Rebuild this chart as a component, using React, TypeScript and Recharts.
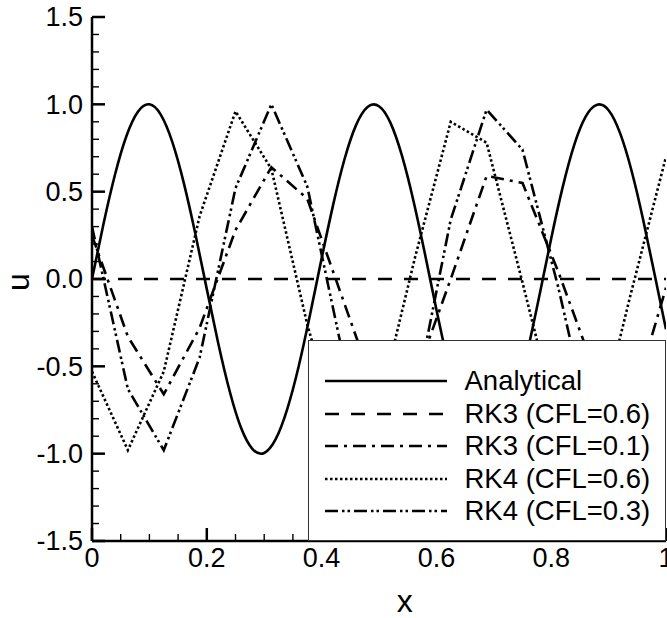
import React from 'react';
import { LineChart, Line, XAxis, YAxis, Label } from 'recharts';

// ---------- data ----------
const X_ANALYTIC = [
  0, 0.02, 0.04, 0.06, 0.08, 0.1, 0.12, 0.14, 0.16, 0.18,
  0.2, 0.22, 0.24, 0.26, 0.28, 0.3, 0.32, 0.34, 0.36, 0.38,
  0.4, 0.42, 0.44, 0.46, 0.48, 0.5, 0.52, 0.54, 0.56, 0.58,
  0.6, 0.62, 0.64, 0.66, 0.68, 0.7, 0.72, 0.74, 0.76, 0.78,
  0.8, 0.82, 0.84, 0.86, 0.88, 0.9, 0.92, 0.94, 0.96, 0.98, 1,
];
const U_ANALYTIC = [
  0, 0.315, 0.597, 0.819, 0.958, 1.0, 0.94, 0.784, 0.549, 0.259,
  -0.058, -0.369, -0.644, -0.855, -0.975, -0.996, -0.917, -0.746, -0.501, -0.202,
  0.117, 0.423, 0.687, 0.881, 0.985, 0.989, 0.894, 0.706, 0.448, 0.144,
  -0.174, -0.475, -0.729, -0.906, -0.993, -0.98, -0.867, -0.665, -0.395, -0.086,
  0.232, 0.526, 0.767, 0.93, 0.998, 0.966, 0.835, 0.62, 0.342, 0.028, -0.288,
];

const X_GRID = [
  0, 0.0625, 0.125, 0.1875, 0.25, 0.3125, 0.375, 0.4375, 0.5,
  0.5625, 0.625, 0.6875, 0.75, 0.8125, 0.875, 0.9375, 1,
];
const U_RK3_CFL06 = [0, 0, 0, 0, 0, 0, 0, 0, 0, 0, 0, 0, 0, 0, 0, 0, 0];
const U_RK3_CFL01 = [
  0.25, -0.33, -0.66, -0.28, 0.28, 0.64, 0.46, -0.12, -0.7,
  -0.57, 0.0, 0.59, 0.55, 0.04, -0.52, -0.75, -0.05,
];
const U_RK4_CFL06 = [
  -0.53, -0.98, -0.53, 0.36, 0.96, 0.63, -0.26, -0.98, -0.73,
  0.12, 0.9, 0.78, -0.02, -0.84, -0.94, -0.1, 0.7,
];
const U_RK4_CFL03 = [
  0.3, -0.63, -0.98, -0.45, 0.52, 1.0, 0.53, -0.44, -1.0,
  -0.69, 0.34, 0.97, 0.74, -0.05, -0.95, -0.8, -0.45,
];

const X_TICKS = [
  0, 0.05, 0.1, 0.15, 0.2, 0.25, 0.3, 0.35, 0.4, 0.45, 0.5,
  0.55, 0.6, 0.65, 0.7, 0.75, 0.8, 0.85, 0.9, 0.95, 1,
];
const X_MAJOR = [0, 0.2, 0.4, 0.6, 0.8, 1];
const X_MAJOR_LABELS = ['0', '0.2', '0.4', '0.6', '0.8', '1'];
const Y_TICKS = [
  -1.5, -1.4, -1.3, -1.2, -1.1, -1, -0.9, -0.8, -0.7, -0.6, -0.5,
  -0.4, -0.3, -0.2, -0.1, 0, 0.1, 0.2, 0.3, 0.4, 0.5,
  0.6, 0.7, 0.8, 0.9, 1, 1.1, 1.2, 1.3, 1.4, 1.5,
];
const Y_MAJOR = [-1.5, -1, -0.5, 0, 0.5, 1, 1.5];
const Y_MAJOR_LABELS = ['-1.5', '-1.0', '-0.5', '0.0', '0.5', '1.0', '1.5'];

const SERIES_NAMES = [
  'Analytical',
  'RK3 (CFL=0.6)',
  'RK3 (CFL=0.1)',
  'RK4 (CFL=0.6)',
  'RK4 (CFL=0.3)',
];

// ---------- styles ----------
const FONT = '"Liberation Sans", Arial, Helvetica, sans-serif';
const W = 667;
const H = 618;
const LINE_W = 2.6;
const TICK_FONT = 27;
const LEGEND_FONT = 27.5;
const DASHES = [undefined, '14 12', '13 6 3 6', '2.5 2.5', '13 4 2.5 3 2.5 4'];

const rows = (xs: number[], us: number[]) => xs.map((x, i) => ({ x, u: us[i] }));
const seriesRows = [
  rows(X_ANALYTIC, U_ANALYTIC),
  rows(X_GRID, U_RK3_CFL06),
  rows(X_GRID, U_RK3_CFL01),
  rows(X_GRID, U_RK4_CFL06),
  rows(X_GRID, U_RK4_CFL03),
];

const majorIndex = (v: number, list: number[]) =>
  list.findIndex((m) => Math.abs(m - v) < 1e-9);

function XTick(props: any) {
  const { x, y, payload } = props;
  const mi = majorIndex(payload.value, X_MAJOR);
  const major = mi >= 0;
  return (
    <g>
      <line
        x1={x}
        x2={x}
        y1={y}
        y2={y - (major ? 13 : 7)}
        stroke="#000"
        strokeWidth={major ? 2.5 : 1.4}
      />
      {major && (
        <text x={x} y={y + 26} textAnchor="middle" fontSize={TICK_FONT} fontFamily={FONT} fill="#000">
          {X_MAJOR_LABELS[mi]}
        </text>
      )}
    </g>
  );
}

function YTick(props: any) {
  const { x, y, payload } = props;
  const mi = majorIndex(payload.value, Y_MAJOR);
  const major = mi >= 0;
  return (
    <g>
      <line
        x1={x}
        x2={x + (major ? 13 : 7)}
        y1={y}
        y2={y}
        stroke="#000"
        strokeWidth={major ? 2.5 : 1.4}
      />
      {major && (
        <text
          x={x - 9}
          y={y}
          dy="0.35em"
          textAnchor="end"
          fontSize={TICK_FONT}
          fontFamily={FONT}
          fill="#000"
        >
          {Y_MAJOR_LABELS[mi]}
        </text>
      )}
    </g>
  );
}

function XTitle(props: any) {
  const vb = props.viewBox || { x: 0, y: 0, width: 0, height: 0 };
  return (
    <text
      x={vb.x + vb.width * 0.545}
      y={vb.y + 71}
      textAnchor="middle"
      fontSize={32}
      fontFamily={FONT}
      fill="#000"
    >
      x
    </text>
  );
}

function YTitle(props: any) {
  const vb = props.viewBox || { x: 0, y: 0, width: 0, height: 0 };
  const cx = vb.x + 29;
  const cy = vb.y + vb.height / 2 + 3;
  return (
    <text
      x={cx}
      y={cy}
      transform={`rotate(-90, ${cx}, ${cy})`}
      textAnchor="middle"
      fontSize={32}
      fontFamily={FONT}
      fill="#000"
    >
      u
    </text>
  );
}

function LegendBox() {
  return (
    <div
      style={{
        position: 'absolute',
        left: 308,
        top: 340,
        width: 358,
        height: 201,
        boxSizing: 'border-box',
        border: '1.5px solid #333',
        background: '#fff',
        paddingTop: 24.3,
        fontFamily: FONT,
        fontSize: LEGEND_FONT,
        color: '#000',
      }}
    >
      {SERIES_NAMES.map((name, i) => (
        <div
          key={name}
          style={{ height: 32.4, display: 'flex', alignItems: 'center', whiteSpace: 'nowrap' }}
        >
          <svg width={122} height={10} style={{ marginLeft: 15.5, display: 'block' }}>
            <line
              x1={0}
              x2={122}
              y1={5}
              y2={5}
              stroke="#000"
              strokeWidth={LINE_W}
              strokeDasharray={DASHES[i]}
            />
          </svg>
          <span style={{ marginLeft: 18, lineHeight: '32px' }}>{name}</span>
        </div>
      ))}
    </div>
  );
}

export default function App() {
  return (
    <div style={{ position: 'absolute', left: 0, top: 0, width: W, height: H, background: '#fff' }}>
      <LineChart width={W} height={H} margin={{ top: 17, right: 1, bottom: 0, left: 0 }}>
        <XAxis
          dataKey="x"
          type="number"
          domain={[0, 1]}
          ticks={X_TICKS}
          interval={0}
          height={77}
          tickSize={0}
          tickMargin={0}
          tick={<XTick />}
          tickLine={false}
          axisLine={{ stroke: '#000', strokeWidth: 2.5 }}
          allowDataOverflow
        >
          <Label content={<XTitle />} />
        </XAxis>
        <XAxis
          xAxisId="top"
          orientation="top"
          type="number"
          domain={[0, 1]}
          height={0}
          tick={false}
          tickLine={false}
          axisLine={{ stroke: '#000', strokeWidth: 2.5 }}
        />
        <YAxis
          type="number"
          domain={[-1.5, 1.5]}
          ticks={Y_TICKS}
          interval={0}
          width={92}
          tickSize={0}
          tickMargin={0}
          tick={<YTick />}
          tickLine={false}
          axisLine={{ stroke: '#000', strokeWidth: 2.5 }}
          allowDataOverflow
        >
          <Label content={<YTitle />} />
        </YAxis>
        <YAxis
          yAxisId="right"
          orientation="right"
          type="number"
          domain={[0, 1]}
          width={0}
          tick={false}
          tickLine={false}
          axisLine={{ stroke: '#000', strokeWidth: 1.5 }}
        />
        {SERIES_NAMES.map((name, i) => (
          <Line
            key={name}
            name={name}
            data={seriesRows[i]}
            dataKey="u"
            type={i === 0 ? 'natural' : 'linear'}
            stroke="#000"
            strokeWidth={LINE_W}
            strokeDasharray={DASHES[i]}
            dot={false}
            activeDot={false}
            isAnimationActive={false}
          />
        ))}
      </LineChart>
      <LegendBox />
    </div>
  );
}
